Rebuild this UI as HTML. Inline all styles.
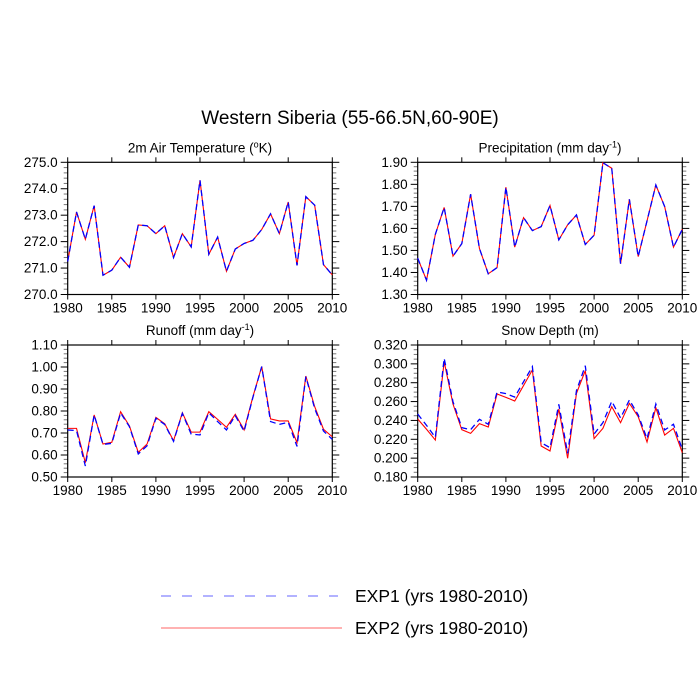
<!DOCTYPE html>
<html><head><meta charset="utf-8"><style>
html,body{margin:0;padding:0;background:#fff;}
svg{display:block;font-family:"Liberation Sans",sans-serif;}
</style></head><body>
<svg id="chart" width="700" height="700" viewBox="0 0 700 700" xmlns="http://www.w3.org/2000/svg">
<rect width="700" height="700" fill="#fff"/>
<text x="350" y="124" font-size="19" text-anchor="middle" fill="#000">Western Siberia (55-66.5N,60-90E)</text>
<g>
<line x1="161" y1="596" x2="338" y2="596" stroke="#6666ff" stroke-width="1" stroke-dasharray="10,11"/>
<text x="355" y="602" font-size="17.5" fill="#000">EXP1 (yrs 1980-2010)</text>
<line x1="161" y1="628" x2="342" y2="628" stroke="#ff6666" stroke-width="1"/>
<text x="355" y="634" font-size="17.5" fill="#000">EXP2 (yrs 1980-2010)</text>
</g>
</svg>
<script>
const years = [];
for (let y = 1980; y <= 2010; y++) years.push(y);
const xTicks = [1980, 1985, 1990, 1995, 2000, 2005, 2010];

const tempExp1 = [271.25,273.12,272.09,273.36,270.73,270.92,271.41,271.03,272.63,272.6,272.3,272.6,271.4,272.3,271.8,274.32,271.52,272.17,270.88,271.72,271.93,272.05,272.46,273.05,272.3,273.5,271.1,273.7,273.38,271.13,270.74];
const tempExp2 = [271.25,273.12,272.09,273.36,270.73,270.92,271.41,271.03,272.63,272.6,272.3,272.6,271.4,272.3,271.8,274.32,271.52,272.17,270.88,271.72,271.93,272.05,272.46,273.05,272.3,273.5,271.1,273.7,273.38,271.13,270.74];
const tempTicks = ["270.0","271.0","272.0","273.0","274.0","275.0"];

const precExp1 = [1.465,1.365,1.573,1.695,1.474,1.531,1.755,1.509,1.394,1.422,1.787,1.515,1.649,1.59,1.608,1.704,1.548,1.616,1.661,1.527,1.569,1.898,1.873,1.44,1.732,1.472,1.634,1.797,1.699,1.515,1.596];
const precExp2 = [1.465,1.365,1.573,1.695,1.474,1.531,1.755,1.509,1.394,1.422,1.787,1.515,1.649,1.59,1.608,1.704,1.548,1.616,1.661,1.527,1.569,1.898,1.873,1.44,1.732,1.472,1.634,1.797,1.699,1.515,1.596];
const precTicks = ["1.30","1.40","1.50","1.60","1.70","1.80","1.90"];

const runExp1 = [0.714,0.711,0.55,0.782,0.648,0.653,0.791,0.729,0.605,0.642,0.767,0.739,0.662,0.789,0.695,0.691,0.792,0.752,0.714,0.779,0.708,0.862,1.002,0.752,0.739,0.749,0.639,0.956,0.812,0.709,0.671];
const runExp2 = [0.721,0.721,0.565,0.782,0.65,0.658,0.797,0.732,0.612,0.65,0.771,0.742,0.665,0.792,0.704,0.704,0.797,0.762,0.726,0.785,0.714,0.865,1.002,0.764,0.755,0.755,0.656,0.959,0.82,0.717,0.683];
const runTicks = ["0.50","0.60","0.70","0.80","0.90","1.00","1.10"];

const snowExp1 = [0.2468,0.2348,0.222,0.3059,0.2599,0.2323,0.2302,0.2412,0.2359,0.2702,0.2684,0.2648,0.281,0.297,0.2164,0.2111,0.2571,0.2051,0.2716,0.298,0.2256,0.2376,0.2603,0.2426,0.2617,0.2458,0.2207,0.2574,0.2299,0.2359,0.2093];
const snowExp2 = [0.2415,0.2306,0.2192,0.3023,0.2574,0.2302,0.2263,0.2366,0.233,0.268,0.2645,0.2606,0.277,0.2935,0.2129,0.2076,0.2521,0.1998,0.2687,0.2928,0.2207,0.2316,0.2546,0.2376,0.2581,0.244,0.2171,0.2535,0.2245,0.2316,0.2058];
const snowTicks = ["0.180","0.200","0.220","0.240","0.260","0.280","0.300","0.320"];

const NS = "http://www.w3.org/2000/svg";
const svg = document.getElementById('chart');
function mk(tag, attrs, parent) {
  const e = document.createElementNS(NS, tag);
  for (const k in attrs) e.setAttribute(k, attrs[k]);
  parent.appendChild(e);
  return e;
}

function panel(key, title, x0, x1, y0, y1, ticks, minorPer, s1, s2) {
  const g = mk('g', {}, svg);
  
  
  const ymin = parseFloat(ticks[0]), ymax = parseFloat(ticks[ticks.length - 1]);
  const sx = v => x0 + (v - 1980) / 30 * (x1 - x0);
  const sy = v => y1 - (v - ymin) / (ymax - ymin) * (y1 - y0);
  const t = mk('text', {x: (x0 + x1) / 2, y: y0 - 10, 'font-size': 13.5, 'text-anchor': 'middle', fill: '#000'}, g);
  
  
  t.innerHTML = title;
  const step = (ymax - ymin) / (ticks.length - 1);
  ticks.forEach((lab, i) => {
    const v = ymin + i * step, y = sy(v);
    mk('line', {x1: x0 - 7, y1: y, x2: x0, y2: y, stroke: '#000', 'stroke-width': 1}, g);
    mk('line', {x1: x1, y1: y, x2: x1 + 7, y2: y, stroke: '#000', 'stroke-width': 1}, g);
    const tl = mk('text', {x: x0 - 10, y: y + 4.5, 'font-size': 13.5, 'text-anchor': 'end', fill: '#000'}, g);
    
    
    tl.textContent = lab;
    if (i < ticks.length - 1) {
      for (let m = 1; m < minorPer; m++) {
        const ym = sy(v + step * m / minorPer);
        mk('line', {x1: x0 - 4, y1: ym, x2: x0, y2: ym, stroke: '#777', 'stroke-width': 1}, g);
        mk('line', {x1: x1, y1: ym, x2: x1 + 4, y2: ym, stroke: '#777', 'stroke-width': 1}, g);
      }
    }
  });
  xTicks.forEach(yr => {
    const x = sx(yr);
    mk('line', {x1: x, y1: y1, x2: x, y2: y1 + 5, stroke: '#000', 'stroke-width': 1}, g);
    mk('line', {x1: x, y1: y0 - 5, x2: x, y2: y0, stroke: '#000', 'stroke-width': 1}, g);
    const tl = mk('text', {x: x, y: y1 + 18, 'font-size': 13.5, 'text-anchor': 'middle', fill: '#000'}, g);
    
    
    tl.textContent = yr;
  });
  const fr = mk('rect', {x: x0, y: y0, width: x1 - x0, height: y1 - y0, fill: 'none', stroke: '#000', 'stroke-width': 1.2}, g);
  
  
  const p2 = mk('polyline', {points: s2.map((v, i) => sx(years[i]) + ',' + sy(v)).join(' '), fill: 'none', stroke: '#ff0000', 'stroke-width': 1.1}, g);
  
  
  const p1 = mk('polyline', {points: s1.map((v, i) => sx(years[i]) + ',' + sy(v)).join(' '), fill: 'none', stroke: '#0000ff', 'stroke-width': 1.3, 'stroke-dasharray': '6,4'}, g);
  
  
}

panel('temperature', '2m Air Temperature (<tspan font-size="9" dy="-5">o</tspan><tspan dy="5">K)</tspan>', 67.7, 332.3, 162.3, 294.5, tempTicks, 5, tempExp1, tempExp2);
panel('precipitation', 'Precipitation (mm day<tspan font-size="9" dy="-5">-1</tspan><tspan dy="5">)</tspan>', 417.7, 682.3, 162.3, 294.5, precTicks, 5, precExp1, precExp2);
panel('runoff', 'Runoff (mm day<tspan font-size="9" dy="-5">-1</tspan><tspan dy="5">)</tspan>', 67.7, 332.3, 345, 477, runTicks, 5, runExp1, runExp2);
panel('snow-depth', 'Snow Depth (m)', 417.7, 682.3, 345, 477, snowTicks, 4, snowExp1, snowExp2);
</script>
</body></html>
